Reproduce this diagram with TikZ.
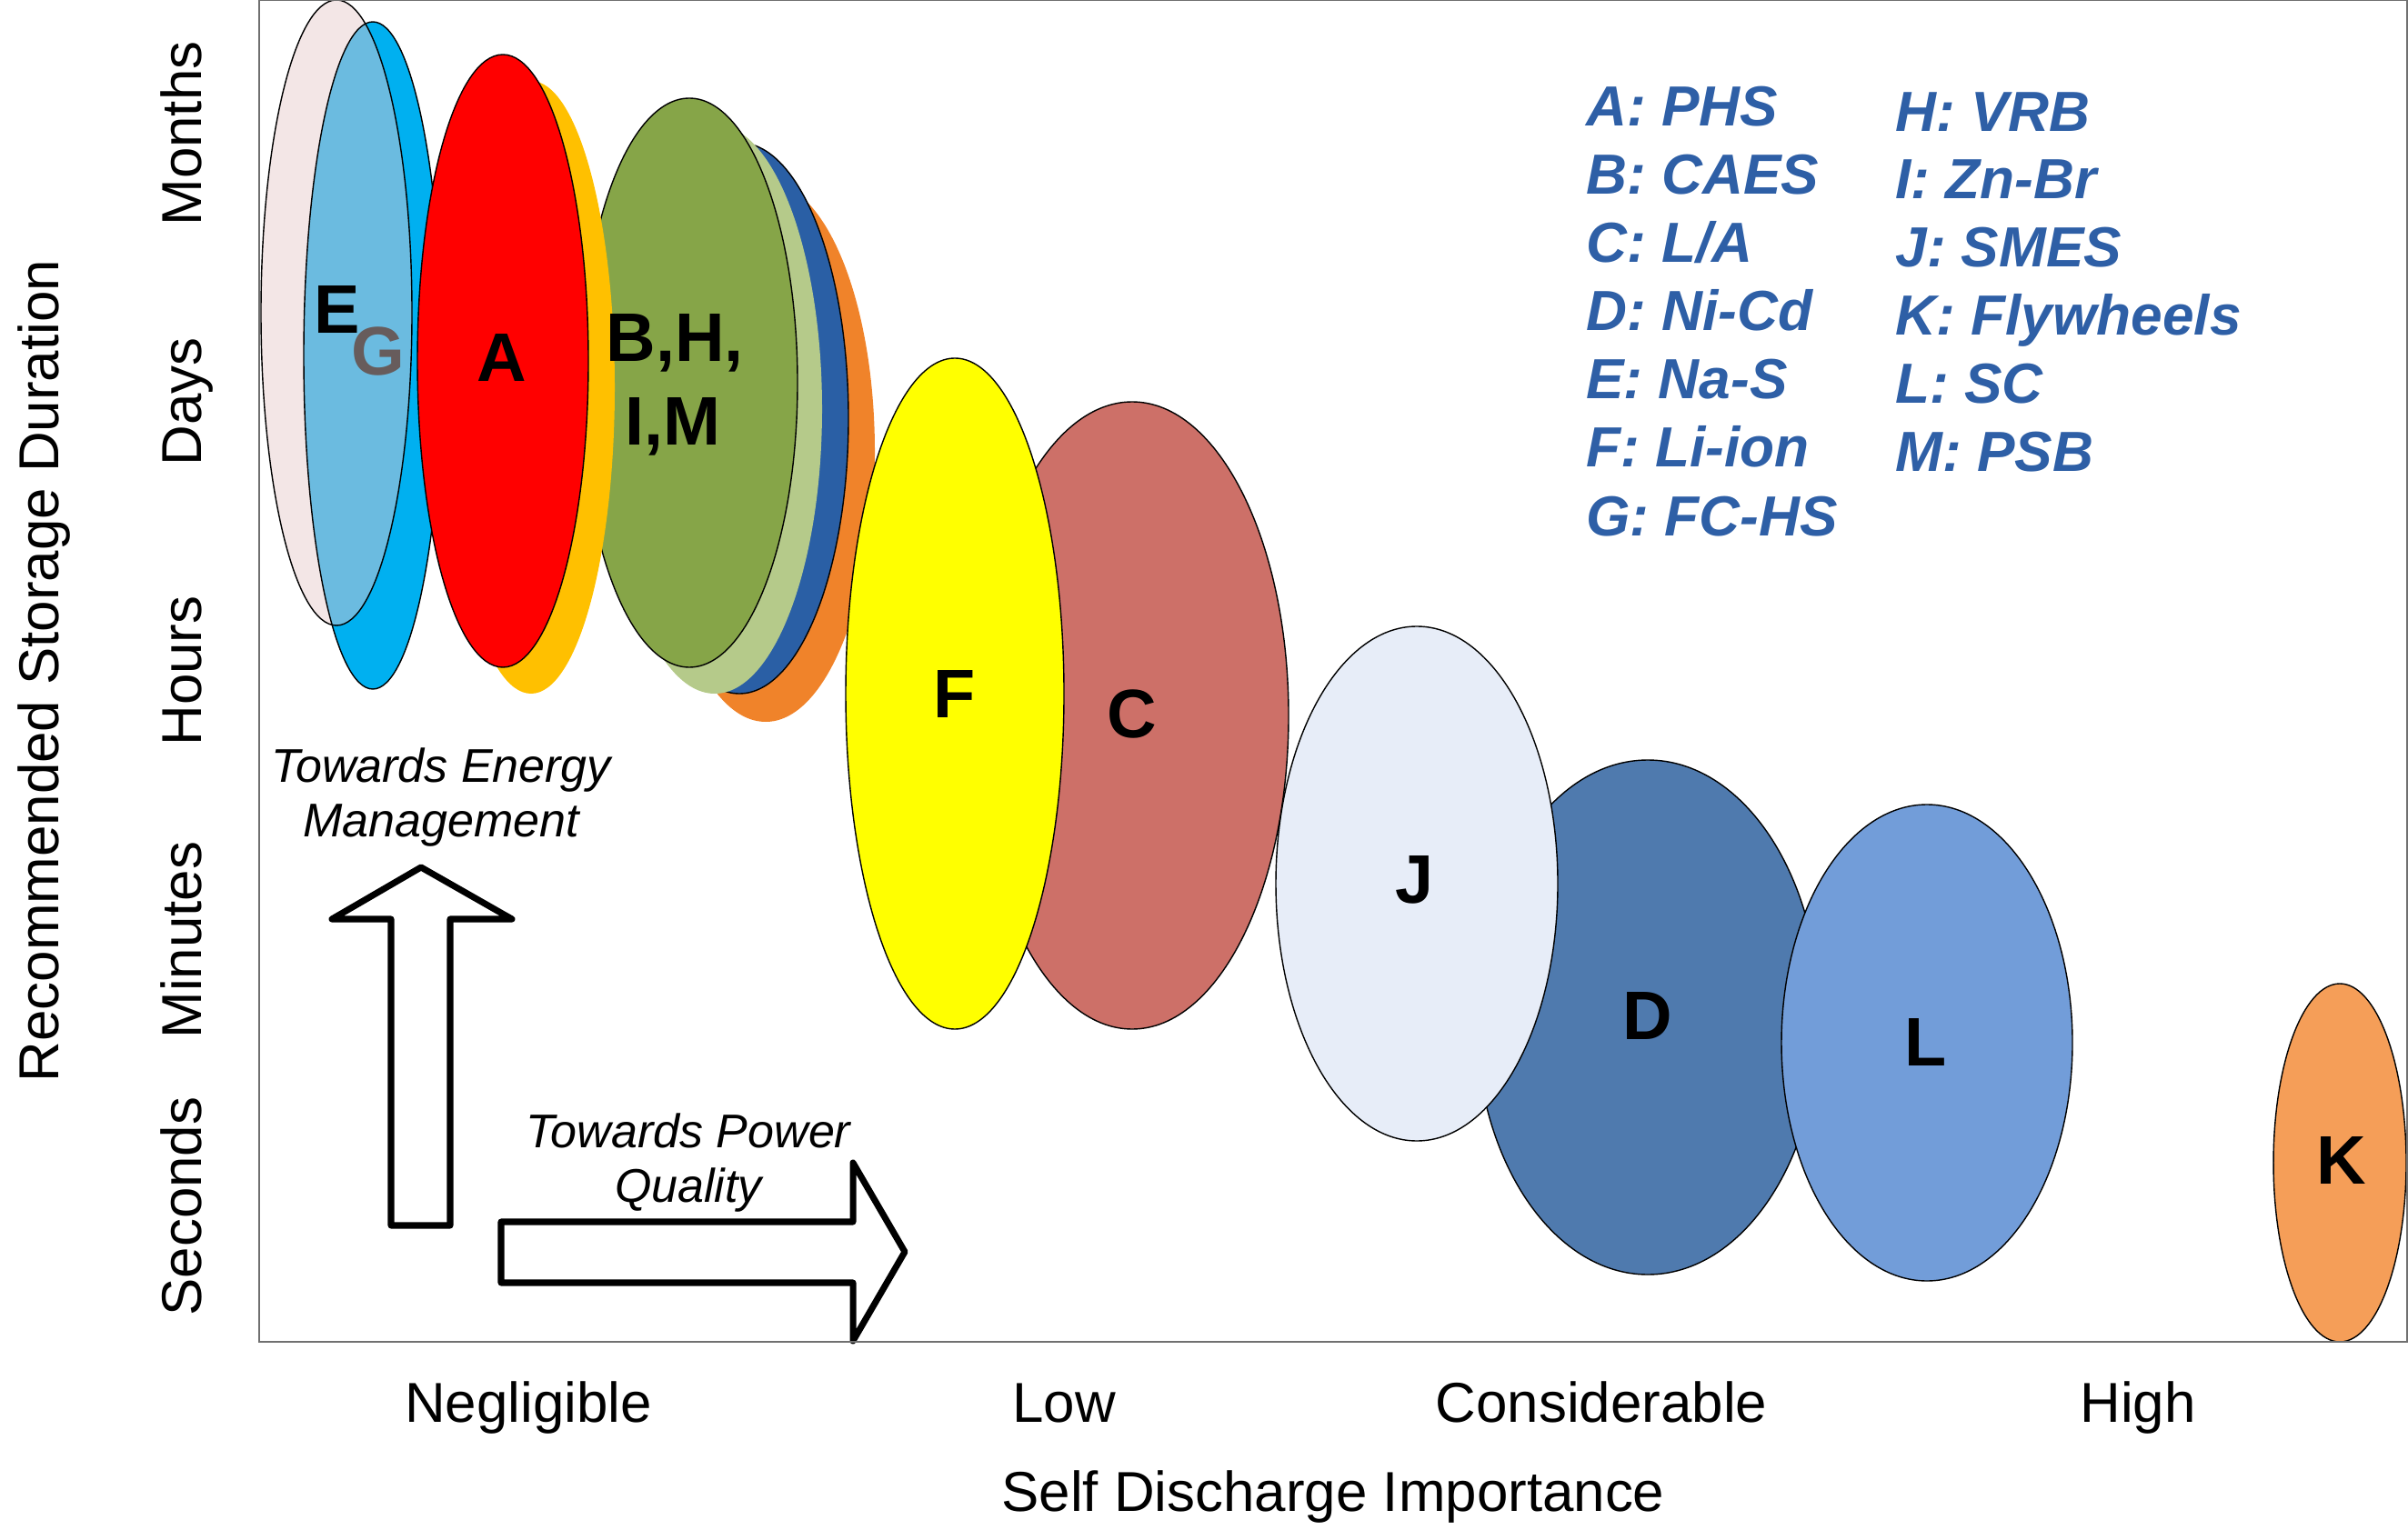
\documentclass[tikz,border=0pt]{standalone}
\usepackage{fontspec}
\setmainfont{Liberation Sans}
\usepackage{tikz}
\usepackage{xcolor}

\definecolor{pinkE}{HTML}{F3E6E6}
\definecolor{cyanG}{HTML}{00B0F0}
\definecolor{mixEG}{HTML}{6BBBE0}
\definecolor{greyG}{HTML}{675C5C}
\definecolor{redA}{HTML}{FF0000}
\definecolor{amberA}{HTML}{FFC000}
\definecolor{greenB}{HTML}{86A548}
\definecolor{paleH}{HTML}{B5CA8A}
\definecolor{navyI}{HTML}{2A5FA5}
\definecolor{orangeM}{HTML}{F0832A}
\definecolor{yellowF}{HTML}{FFFF00}
\definecolor{salmonC}{HTML}{CD7068}
\definecolor{iceJ}{HTML}{E7EDF8}
\definecolor{steelD}{HTML}{4F7AAE}
\definecolor{skyL}{HTML}{729DD9}
\definecolor{peachK}{HTML}{F59E58}
\definecolor{legblue}{HTML}{2E5FA6}
\definecolor{framegray}{HTML}{707070}

\begin{document}
\begin{tikzpicture}[
    rim/.style={draw=black, line width=0.4pt},
    lettr/.style={anchor=base, font=\fontsize{21.5}{26.2}\selectfont\bfseries},
    legtext/.style={anchor=base west, text=legblue, font=\fontsize{17.7}{21}\selectfont\bfseries\itshape},
    axtext/.style={anchor=base, font=\fontsize{17.6}{21}\selectfont},
    bigarrow/.style={draw=black, line width=2pt, line join=round, fill=white}
]
\useasboundingbox (0,0) rectangle (26.48,16.82);

%%%%%%%%%% Long duration group (B,H,I,M) %%%%%%%%
{
\fill[orangeM] (8.42,11.85) ellipse [x radius=1.20, y radius=2.97];
\fill[navyI] (8.13,12.22) ellipse [x radius=1.20, y radius=3.03];
\draw[rim] (8.13,12.22) ellipse [x radius=1.20, y radius=3.03];
\fill[paleH] (7.86,12.32) ellipse [x radius=1.18, y radius=3.13];
\filldraw[fill=greenB, rim] (7.58,12.61) ellipse [x radius=1.19, y radius=3.13];
}

%%%%%%%%%% E and G %%%%%%%%
{
\fill[cyanG] (4.10,12.91) ellipse [x radius=0.76, y radius=3.67];
\fill[pinkE] (3.70,13.38) ellipse [x radius=0.83, y radius=3.44];
\begin{scope}
\clip (3.70,13.38) ellipse [x radius=0.83, y radius=3.44];
\fill[mixEG] (4.10,12.91) ellipse [x radius=0.76, y radius=3.67];
\end{scope}
\draw[rim] (4.10,12.91) ellipse [x radius=0.76, y radius=3.67];
\draw[rim] (3.70,13.38) ellipse [x radius=0.83, y radius=3.44];
}

%%%%%%%%%% A %%%%%%%%
{
\fill[amberA] (5.84,12.56) ellipse [x radius=0.92, y radius=3.37];
\filldraw[fill=redA, rim] (5.53,12.85) ellipse [x radius=0.94, y radius=3.37];
}

%%%%%%%%%% C, F %%%%%%%%
{
\filldraw[fill=salmonC, rim] (12.45,8.95) ellipse [x radius=1.72, y radius=3.45];
\filldraw[fill=yellowF, rim] (10.50,9.19) ellipse [x radius=1.20, y radius=3.69];
}

%%%%%%%%%% D, J, L, K %%%%%%%%
{
\filldraw[fill=steelD, rim] (18.12,5.63) ellipse [x radius=1.89, y radius=2.83];
\filldraw[fill=iceJ, rim] (15.58,7.10) ellipse [x radius=1.55, y radius=2.83];
\filldraw[fill=skyL, rim] (21.19,5.35) ellipse [x radius=1.60, y radius=2.62];
\filldraw[fill=peachK, rim] (25.73,4.03) ellipse [x radius=0.73, y radius=1.97];
}

%%%%%%%%%% Letters %%%%%%%%
{
\node (labE) at (3.71,13.15) [lettr]{E};
\node (labG) at (4.16,12.69) [lettr, text=greyG]{G};
\node (labA) at (5.52,12.62) [lettr]{A};
\node (labBH) at (7.42,12.84) [lettr]{B,H,};
\node (labIM) at (7.40,11.92) [lettr]{I,M};
\node (labF) at (10.50,8.93) [lettr]{F};
\node (labC) at (12.45,8.71) [lettr]{C};
\node (labJ) at (15.55,6.89) [lettr]{J};
\node (labD) at (18.12,5.39) [lettr]{D};
\node (labL) at (21.18,5.10) [lettr]{L};
\node (labK) at (25.75,3.80) [lettr]{K};
}

%%%%%%%%%% Legend %%%%%%%%
{
\node (legA) at (17.32,15.43) [legtext]{A: PHS};
\node (legB) at (17.32,14.68) [legtext]{B: CAES};
\node (legC) at (17.32,13.93) [legtext]{C: L/A};
\node (legD) at (17.32,13.18) [legtext]{D: Ni-Cd};
\node (legE) at (17.32,12.43) [legtext]{E: Na-S};
\node (legF) at (17.32,11.68) [legtext]{F: Li-ion};
\node (legG) at (17.32,10.93) [legtext]{G: FC-HS};
\node (legH) at (20.72,15.37) [legtext]{H: VRB};
\node (legI) at (20.72,14.63) [legtext]{I: Zn-Br};
\node (legJ) at (20.72,13.88) [legtext]{J: SMES};
\node (legK) at (20.72,13.13) [legtext]{K: Flywheels};
\node (legL) at (20.72,12.38) [legtext]{L: SC};
\node (legM) at (20.72,11.63) [legtext]{M: PSB};
}

%%%%%%%%%% Block arrows %%%%%%%%
{
\draw[bigarrow] (4.30,3.34)--++(0.65,0)--++(0,3.37)--++(0.68,0)--++(-1.00,0.57)--++(-0.98,-0.57)--++(0.65,0)--cycle;
\draw[bigarrow] (5.51,3.38)--++(3.87,0)--++(0,0.65)--++(0.57,-0.98)--++(-0.57,-0.98)--++(0,0.64)--++(-3.87,0)--cycle;

\node (energy) at (4.85,8.22) [anchor=base, font=\fontsize{14.8}{17.1}\selectfont\itshape]{\begin{tabular}[t]{@{}c@{}} Towards Energy \\ Management \end{tabular}};
\node (power) at (7.57,4.20) [anchor=base, font=\fontsize{14.8}{17.1}\selectfont\itshape]{\begin{tabular}[t]{@{}c@{}} Towards Power \\ Quality \end{tabular}};
}

%%%%%%%%%% Axes %%%%%%%%
{
\draw[framegray, line width=0.55pt] (2.85,2.06) rectangle (26.47,16.82);

\node (months) at (2.21,15.35) [axtext, rotate=90]{Months};
\node (days) at (2.21,12.40) [axtext, rotate=90]{Days};
\node (hours) at (2.21,9.44) [axtext, rotate=90]{Hours};
\node (minutes) at (2.21,6.48) [axtext, rotate=90]{Minutes};
\node (seconds) at (2.21,3.55) [axtext, rotate=90]{Seconds};
\node (ytitle) at (0.64,9.44) [axtext, rotate=90]{Recommended Storage Duration};

\node (neglig) at (5.81,1.18) [axtext]{Negligible};
\node (low) at (11.70,1.18) [axtext]{Low};
\node (consid) at (17.61,1.18) [axtext]{Considerable};
\node (high) at (23.51,1.18) [axtext]{High};
\node (xtitle) at (14.66,0.20) [axtext]{Self Discharge Importance};
}

\end{tikzpicture}
\end{document}
